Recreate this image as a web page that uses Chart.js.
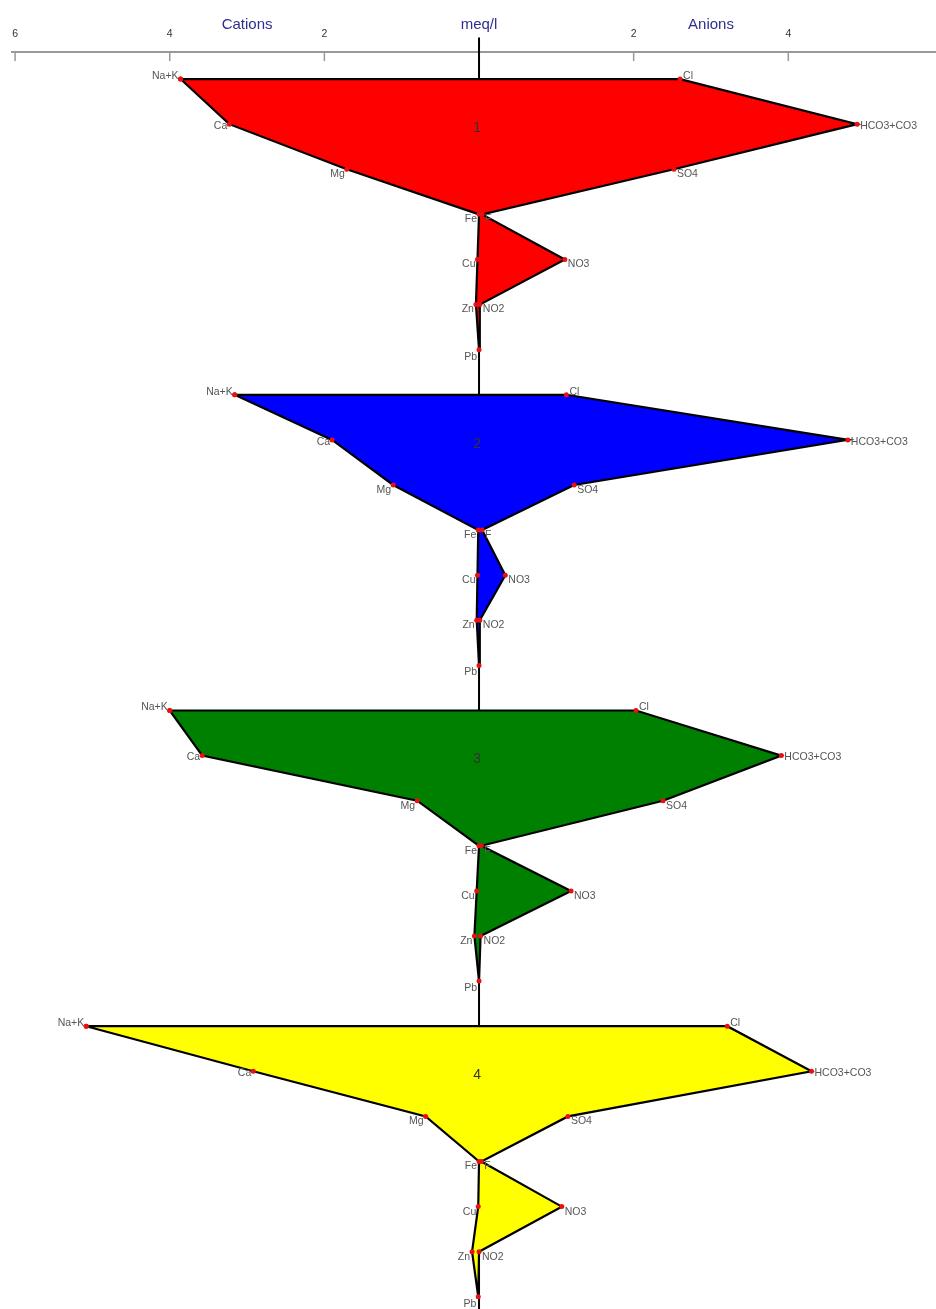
<!DOCTYPE html>
<html>
<head>
<meta charset="utf-8">
<script src="https://cdn.jsdelivr.net/npm/chart.js@4"></script>
<style>
  body { margin: 0; background: #fff; }
  #wrap { width: 936px; height: 1309px; position: relative; }
</style>
</head>
<body>
<div id="wrap"><canvas id="stiff"></canvas></div>
<script>
// Stiff diagram, meq/l
const cationLabels = ["Na+K", "Ca", "Mg", "Fe", "Cu", "Zn", "Pb"];
const anionLabels = ["Cl", "HCO3+CO3", "SO4", "F", "NO3", "NO2"];
const sampleNames = ["1", "2", "3", "4"];
const sampleColors = ["#ff0000", "#0000ff", "#008000", "#ffff00"];
const axisTicks = [-6, -4, -2, 2, 4];

const cations1 = [3.86, 3.23, 1.71, 0.0, 0.02, 0.04, 0.0];
const anions1 = [2.60, 4.89, 2.52, 0.04, 1.11, 0.01];
const cations2 = [3.16, 1.90, 1.11, 0.01, 0.02, 0.03, 0.0];
const anions2 = [1.13, 4.77, 1.23, 0.04, 0.34, 0.01];
const cations3 = [4.00, 3.58, 0.80, 0.0, 0.03, 0.06, 0.0];
const anions3 = [2.03, 3.91, 2.38, 0.03, 1.19, 0.02];
const cations4 = [5.08, 2.92, 0.69, 0.0, 0.01, 0.09, 0.01];
const anions4 = [3.21, 4.30, 1.15, 0.03, 1.07, 0.0];

const samples = [
  { cat: cations1, an: anions1 },
  { cat: cations2, an: anions2 },
  { cat: cations3, an: anions3 },
  { cat: cations4, an: anions4 },
];
const rowsPerSample = cationLabels.length;

function polygon(s, i) {
  const pts = [];
  s.cat.forEach((v, r) => pts.push({ x: -v, y: i * rowsPerSample + r }));
  for (let r = s.an.length - 1; r >= 0; r--) {
    pts.push({ x: s.an[r], y: i * rowsPerSample + r });
  }
  pts.push(pts[0]);
  return pts;
}

const datasets = samples.map((s, i) => ({
  label: sampleNames[i],
  data: polygon(s, i),
  showLine: true,
  fill: "shape",
  backgroundColor: sampleColors[i],
  borderColor: "#000",
  borderWidth: 2.2,
  tension: 0,
  pointRadius: 2.5,
  pointBackgroundColor: "#e81010",
  pointBorderWidth: 0,
  order: 0,
}));

// center line
datasets.push({
  label: "center",
  data: [{ x: 0, y: -0.92 }, { x: 0, y: 27.4 }],
  showLine: true,
  borderColor: "#000",
  borderWidth: 2,
  pointRadius: 0,
  clip: false,
  order: 10,
});

const labelPlugin = {
  id: "stiffLabels",
  afterDatasetsDraw(chart) {
    const { ctx } = chart;
    const x = chart.scales.x, y = chart.scales.y;
    const dy = (r) => (r === 0 ? -3 : r === 1 ? 2 : r === 6 ? 7 : 5);
    ctx.save();
    ctx.font = "10.5px 'Liberation Sans', Arial, sans-serif";
    ctx.fillStyle = "#555";
    ctx.textBaseline = "middle";
    samples.forEach((s, i) => {
      ctx.textAlign = "right";
      cationLabels.forEach((lab, r) => {
        const px = x.getPixelForValue(-s.cat[r]);
        const py = y.getPixelForValue(i * rowsPerSample + r);
        ctx.fillText(lab, px - 2, py + dy(r));
      });
      ctx.textAlign = "left";
      anionLabels.forEach((lab, r) => {
        const px = x.getPixelForValue(s.an[r]);
        const py = y.getPixelForValue(i * rowsPerSample + r);
        ctx.fillText(lab, px + 3, py + dy(r));
      });
    });
    // sample numbers
    ctx.font = "14px 'Liberation Sans', Arial, sans-serif";
    ctx.fillStyle = "#333";
    ctx.textAlign = "center";
    sampleNames.forEach((n, i) => {
      ctx.fillText(n, x.getPixelForValue(0) - 2, y.getPixelForValue(i * rowsPerSample + 1) + 4);
    });
    // axis titles
    ctx.font = "15px 'Liberation Sans', Arial, sans-serif";
    ctx.fillStyle = "#2e2e90";
    ctx.fillText("Cations", x.getPixelForValue(-3), 25);
    ctx.fillText("meq/l", x.getPixelForValue(0), 25);
    ctx.fillText("Anions", x.getPixelForValue(3), 25);
    // tick marks pointing down
    ctx.strokeStyle = "#999";
    ctx.lineWidth = 1.5;
    axisTicks.forEach((v) => {
      const px = x.getPixelForValue(v);
      ctx.beginPath();
      ctx.moveTo(px, x.bottom);
      ctx.lineTo(px, x.bottom + 9);
      ctx.stroke();
    });
    ctx.restore();
  },
};

new Chart(document.getElementById("stiff"), {
  type: "scatter",
  data: { datasets: datasets },
  options: {
    responsive: true,
    maintainAspectRatio: false,
    animation: false,
    layout: { autoPadding: false, padding: { left: 12, right: 0, top: 0, bottom: 0 } },
    scales: {
      x: {
        type: "linear",
        position: "top",
        min: -6.04,
        max: 5.91,
        afterFit(scale) {
          scale.height = 52;
        },
        afterBuildTicks(scale) {
          scale.ticks = axisTicks.map((v) => ({ value: v }));
        },
        ticks: {
          callback: (v) => Math.abs(v),
          color: "#333",
          font: { size: 10.5, family: "'Liberation Sans', Arial, sans-serif" },
          padding: 4,
          maxRotation: 0,
          autoSkip: false,
        },
        grid: { display: false },
        border: { display: true, color: "#999", width: 2 },
      },
      y: {
        type: "linear",
        display: false,
        reverse: true,
        min: -0.6,
        max: 27.27,
      },
    },
    plugins: {
      legend: { display: false },
      tooltip: { enabled: false },
    },
  },
  plugins: [labelPlugin],
});
</script>
</body>
</html>
